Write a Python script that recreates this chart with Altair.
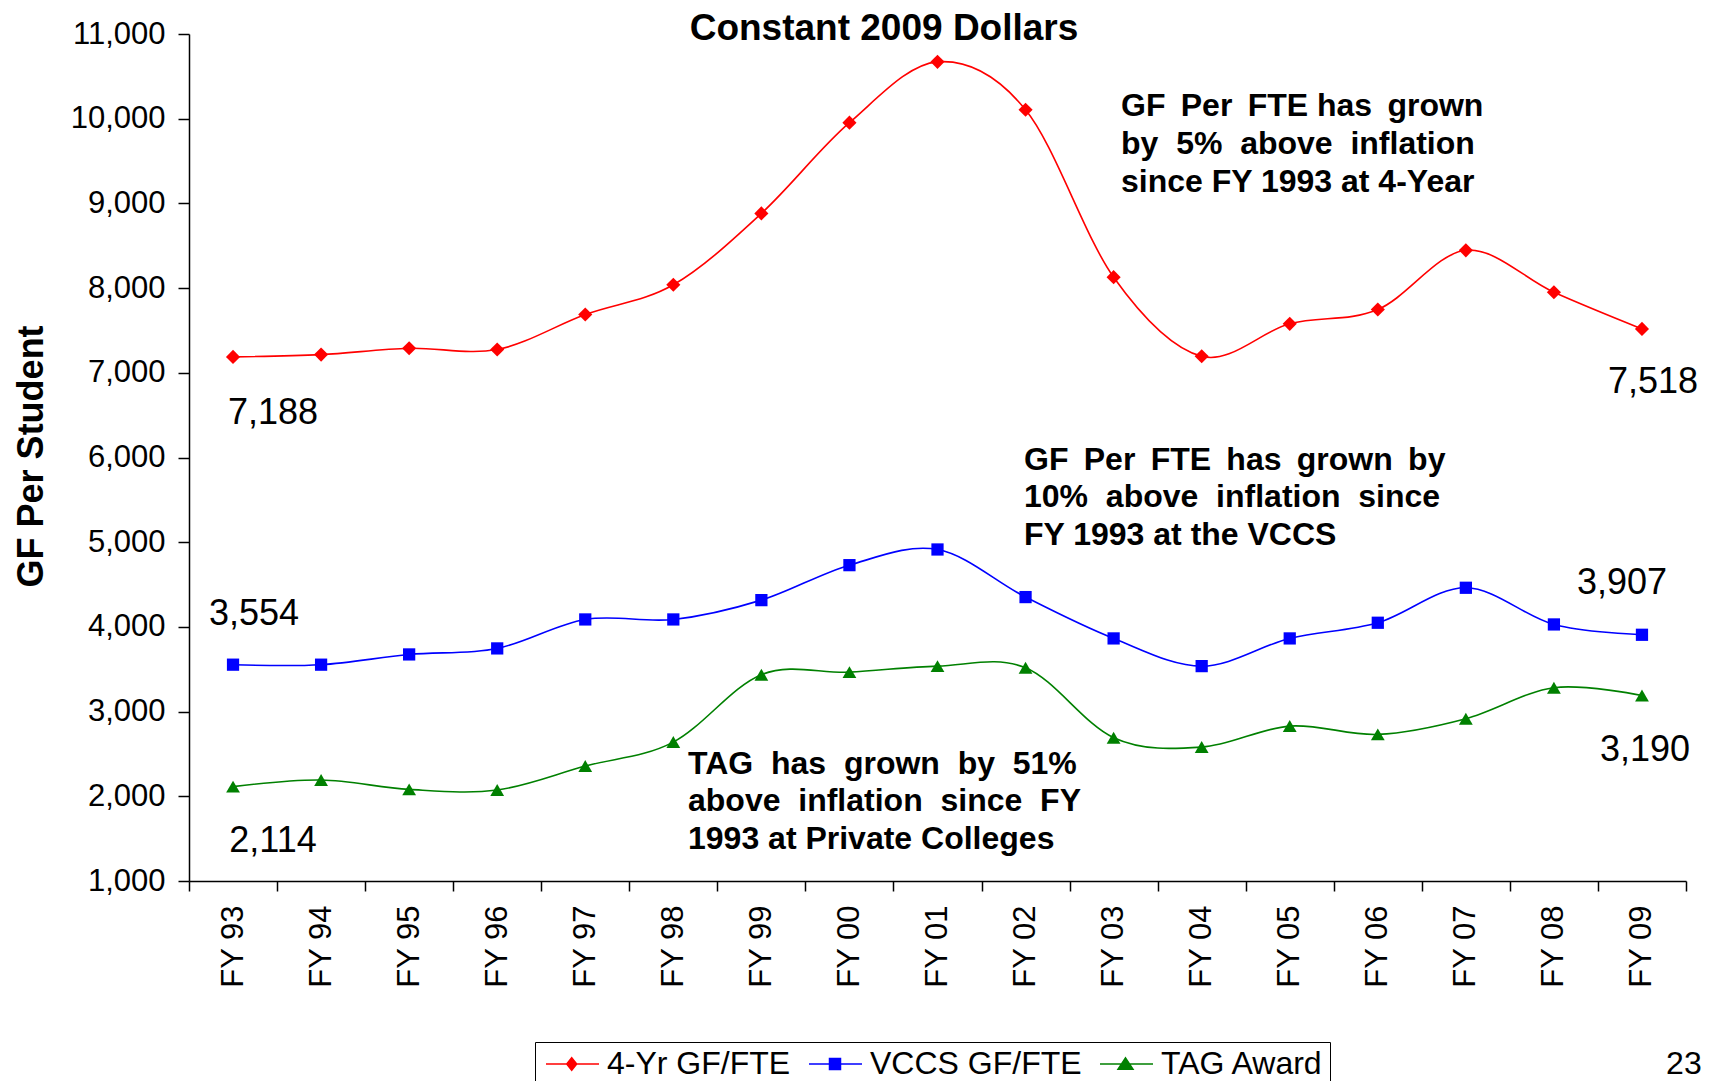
import altair as alt
import pandas as pd

# ---------------- data ----------------
categories = ["FY 93", "FY 94", "FY 95", "FY 96", "FY 97", "FY 98", "FY 99", "FY 00",
              "FY 01", "FY 02", "FY 03", "FY 04", "FY 05", "FY 06", "FY 07", "FY 08", "FY 09"]
series_names = ["4-Yr GF/FTE", "VCCS GF/FTE", "TAG Award"]
four_yr = [7188, 7215, 7290, 7275, 7688, 8039, 8882, 9953, 10671, 10106, 8129, 7195, 7578, 7747, 8446, 7951, 7518]
vccs = [3554, 3554, 3675, 3746, 4088, 4088, 4316, 4729, 4914, 4352, 3864, 3537, 3864, 4049, 4462, 4029, 3907]
tag = [2114, 2192, 2082, 2074, 2357, 2640, 3436, 3466, 3537, 3518, 2692, 2581, 2829, 2731, 2916, 3282, 3190]
y_ticks = [1000, 2000, 3000, 4000, 5000, 6000, 7000, 8000, 9000, 10000, 11000]

title_text = "Constant 2009 Dollars"
y_title = "GF Per Student"
note_4yr = ["GF\u2009 Per\u2009 FTE has\u2009 grown",
            "by\u00a0 5%\u00a0 above\u00a0 inflation",
            "since FY 1993 at 4-Year"]
note_vccs = ["GF\u2009 Per\u2009 FTE\u2009 has\u2009 grown\u2009 by",
             "10%\u00a0 above\u00a0 inflation\u00a0 since",
             "FY 1993 at the VCCS"]
note_tag = ["TAG\u00a0 has\u00a0 grown\u00a0 by\u00a0 51%",
            "above\u00a0 inflation\u00a0 since\u00a0 FY",
            "1993 at Private Colleges"]
page_no = "23"

colors = ["#FF0000", "#0000FF", "#008000"]
marker_shapes = ["diamond", "square", "triangle-up"]
marker_sizes = [200, 150, 190]
# legend symbols: short line with the marker on it (unit = 10px)
legend_paths = [
    "M-1.1,0H4.2M1.47,-0.63L1.97,0L1.47,0.63L0.97,0Z",
    "M-1.1,0H4.2M0.95,-0.55H2.05V0.55H0.95Z",
    "M-1.1,0H4.2M1.45,-0.62L2.2,0.52L0.7,0.52Z",
]

rows = []
for name, vals in zip(series_names, [four_yr, vccs, tag]):
    for c, v in zip(categories, vals):
        rows.append({"cat": c, "series": name, "value": v})
df = pd.DataFrame(rows)
one = pd.DataFrame({"k": [0]})

FONT = "Liberation Sans"
W, H = 1497, 847

x_enc = alt.X("cat:N", sort=categories,
              scale=alt.Scale(type="band", domain=categories, paddingInner=0, paddingOuter=0),
              axis=alt.Axis(title=None, labelAngle=-90, tickBand="extent", labelFontSize=31,
                            labelFont=FONT, labelColor="black", tickColor="black",
                            domainColor="black", tickSize=10, labelPadding=14, grid=False,
                            domainWidth=1.5, tickWidth=1.5))
y_enc = alt.Y("value:Q",
              scale=alt.Scale(domain=[1000, 11000], nice=False, zero=False),
              axis=alt.Axis(title=None, values=y_ticks, format=",.0f", labelFontSize=31,
                            labelFont=FONT, labelColor="black", tickColor="black",
                            domainColor="black", tickSize=11, labelPadding=13, grid=False,
                            domainWidth=1.5, tickWidth=1.5))

base = alt.Chart(df)
layers = []

# lines and markers
for name, col, shp, sz in zip(series_names, colors, marker_shapes, marker_sizes):
    sub = base.transform_filter(alt.datum.series == name)
    layers.append(sub.mark_line(interpolate="cardinal", color=col, strokeWidth=1.6)
                  .encode(x=x_enc, y=y_enc))
    layers.append(sub.mark_point(shape=shp, filled=True, size=sz, color=col, opacity=1)
                  .encode(x=x_enc, y=y_enc))

# legend-only layer (no marks drawn, explicit domains give the legend entries)
leg = alt.Legend(title=None, orient="none", legendX=346, legendY=1008, direction="horizontal",
                 strokeColor="black", fillColor="white", padding=6, labelFontSize=32,
                 labelFont=FONT, labelColor="black", symbolSize=400, symbolStrokeWidth=1.5,
                 labelOffset=34, columnPadding=13, labelLimit=0)
color_scale = alt.Scale(domain=series_names, range=colors)
layers.append(
    base.transform_filter(alt.datum.value < 0)
    .mark_point(filled=True, opacity=1, strokeWidth=1.5)
    .encode(x=x_enc, y=y_enc,
            color=alt.Color("series:N", scale=color_scale, legend=leg),
            stroke=alt.Stroke("series:N", scale=color_scale, legend=leg),
            shape=alt.Shape("series:N", scale=alt.Scale(domain=series_names, range=legend_paths),
                            legend=leg))
)

# end-point value labels
label_specs = [
    (series_names[0], "FY 93", 40, 67),
    (series_names[0], "FY 09", 11, 64),
    (series_names[1], "FY 93", 21, -40),
    (series_names[1], "FY 09", -20, -41),
    (series_names[2], "FY 93", 40, 65),
    (series_names[2], "FY 09", 3, 65),
]
for name, cat, dx, dy in label_specs:
    layers.append(
        base.transform_filter((alt.datum.series == name) & (alt.datum.cat == cat))
        .mark_text(align="center", baseline="alphabetic", dx=dx, dy=dy, fontSize=36,
                   font=FONT, color="black")
        .encode(x=x_enc, y=y_enc, text=alt.Text("value:Q", format=","))
    )


def note(lines, x, y, size=32, bold=True, align="left", angle=0, lh=37.7):
    kw = dict(align=align, baseline="alphabetic", fontSize=size, font=FONT, color="black",
              fontWeight="bold" if bold else "normal", lineHeight=lh)
    if angle:
        kw["angle"] = angle
    return alt.Chart(one).mark_text(**kw).encode(
        x=alt.value(x), y=alt.value(y), text=alt.value(lines))


layers.append(note(title_text, 695, 5.7, size=37, align="center"))
layers.append(note(y_title, -146, 422.4, size=36, align="center", angle=270))
layers.append(note(note_4yr, 932, 82.4))
layers.append(note(note_vccs, 835, 435.7))
layers.append(note(note_tag, 499, 739.7))
layers.append(note(page_no, 1512.7, 1039.7, size=32, bold=False, align="right"))

chart = (
    alt.layer(*layers)
    .properties(width=W, height=H,
                padding={"left": 181, "top": 26, "right": 17, "bottom": 200},
                autosize=alt.AutoSizeParams(type="none"),
                background="white")
    .configure_view(stroke=None)
)

chart.save("out.html", embed_options={"renderer": "svg", "actions": False})
